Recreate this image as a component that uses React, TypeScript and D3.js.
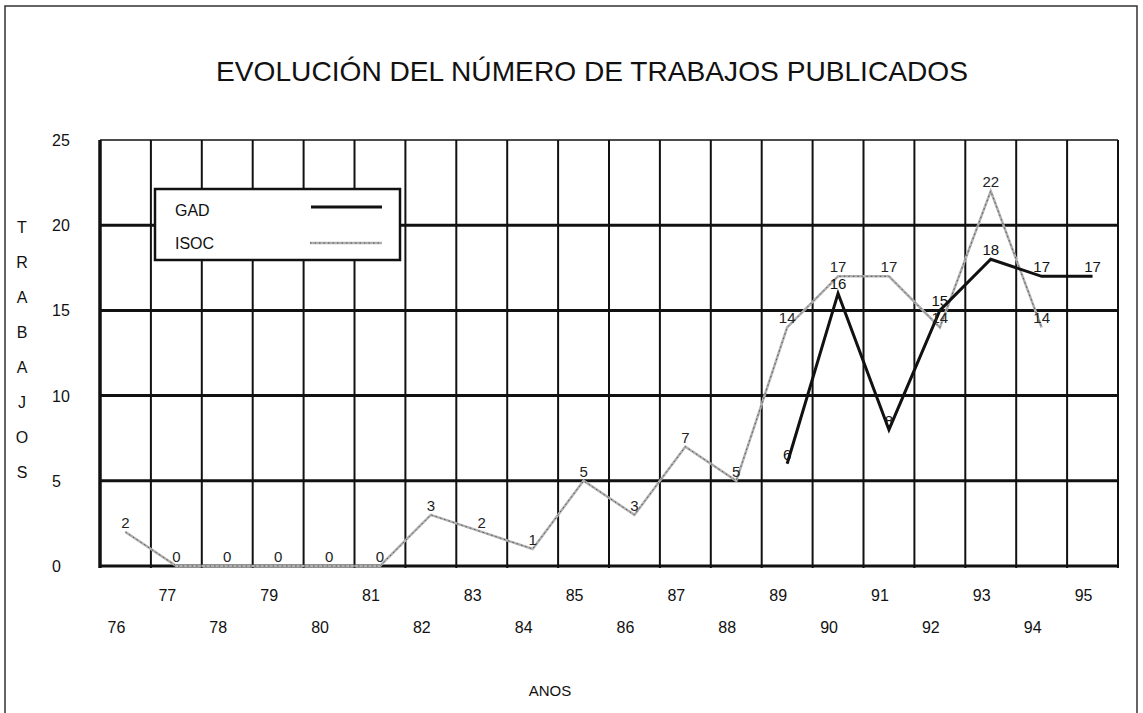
import * as d3 from "d3";

// Published papers per year, two series
const years = ["76", "77", "78", "79", "80", "81", "82", "83", "84", "85", "86", "87", "88", "89", "90", "91", "92", "93", "94", "95"];
const isocYears = ["76", "77", "78", "79", "80", "81", "82", "83", "84", "85", "86", "87", "88", "89", "90", "91", "92", "93", "94"];
const isocValues = [2, 0, 0, 0, 0, 0, 3, 2, 1, 5, 3, 7, 5, 14, 17, 17, 14, 22, 14];
const gadYears = ["89", "90", "91", "92", "93", "94", "95"];
const gadValues = [6, 16, 8, 15, 18, 17, 17];
const yTicks = [0, 5, 10, 15, 20, 25];
const yTitle = ["T", "R", "A", "B", "A", "J", "O", "S"];

const W = 1143;
const H = 713;
const FONT = "'Liberation Sans', Arial, Helvetica, sans-serif";

const App = () => {
  const x = d3.scaleBand().domain(years).range([100, 1118]);
  const y = d3.scaleLinear().domain([0, 25]).range([566, 140]);
  const cx = (k: string) => (x(k) as number) + x.bandwidth() / 2;

  const isoc = isocYears.map((k, i) => ({ k, v: isocValues[i] }));
  const gad = gadYears.map((k, i) => ({ k, v: gadValues[i] }));

  const line = d3
    .line<{ k: string; v: number }>()
    .x((d) => cx(d.k))
    .y((d) => y(d.v));

  // vertical grid at band edges
  const edges = years.map((k) => x(k) as number).concat([1118]);

  return (
    <svg
      width={W}
      height={H}
      style={{ position: "absolute", left: 0, top: 0, background: "#fff" }}
      fontFamily={FONT}
    >
      {/* outer frame of the scanned page */}
      <path d={`M5,${H} V6 H1137 V${H}`} fill="none" stroke="#333" strokeWidth={1.5} />

      <text
        x={592}
        y={81}
        textAnchor="middle"
        fontSize={28}
        textLength={752}
        lengthAdjust="spacingAndGlyphs"
        fill="#111"
      >
        EVOLUCIÓN DEL NÚMERO DE TRABAJOS PUBLICADOS
      </text>

      {/* vertical grid */}
      {edges.map((ex, i) => (
        <line
          key={"v" + i}
          x1={ex}
          x2={ex}
          y1={140}
          y2={568}
          stroke="#111"
          strokeWidth={i === 0 ? 3.5 : 2}
        />
      ))}

      {/* horizontal grid */}
      {yTicks.map((t) => (
        <line
          key={"h" + t}
          x1={100}
          x2={1118}
          y1={y(t)}
          y2={y(t)}
          stroke="#111"
          strokeWidth={t === 25 ? 1.5 : 3}
        />
      ))}

      {/* y tick labels */}
      {yTicks.map((t) => (
        <text key={"yt" + t} x={52} y={y(t) + 6} fontSize={16} fill="#111">
          {t}
        </text>
      ))}

      {/* y title, stacked letters */}
      {yTitle.map((c, i) => (
        <text key={"yl" + i} x={22} y={233 + i * 35} textAnchor="middle" fontSize={16} fill="#111">
          {c}
        </text>
      ))}

      {/* x tick labels, staggered */}
      {years.map((k, i) => (
        <text
          key={"xt" + k}
          x={cx(k) - 9}
          y={i % 2 === 0 ? 633 : 601}
          textAnchor="middle"
          fontSize={16}
          fill="#111"
        >
          {k}
        </text>
      ))}

      <text x={550} y={696} textAnchor="middle" fontSize={15} fill="#111">
        ANOS
      </text>

      {/* ISOC series: grey with dotted texture */}
      <path d={line(isoc) as string} fill="none" stroke="#b0b0b0" strokeWidth={2.5} />
      <path
        d={line(isoc) as string}
        fill="none"
        stroke="#555"
        strokeWidth={1}
        strokeDasharray="1.5,3"
      />

      {/* GAD series */}
      <path d={line(gad) as string} fill="none" stroke="#111" strokeWidth={3} />

      {/* data labels */}
      {isoc.map((d) => (
        <text
          key={"li" + d.k}
          x={cx(d.k)}
          y={y(d.v) - 4}
          textAnchor="middle"
          fontSize={15}
          fill="#222"
        >
          {d.v}
        </text>
      ))}
      {gad.map((d) => (
        <text
          key={"lg" + d.k}
          x={cx(d.k)}
          y={y(d.v) - 4}
          textAnchor="middle"
          fontSize={15}
          fill="#111"
        >
          {d.v}
        </text>
      ))}

      {/* legend */}
      <rect x={155} y={189} width={245} height={71} fill="#fff" stroke="#111" strokeWidth={2.5} />
      <text x={175} y={216} fontSize={16} fill="#111">
        GAD
      </text>
      <text x={175} y={249} fontSize={16} fill="#111">
        ISOC
      </text>
      <line x1={311} x2={382} y1={207} y2={207} stroke="#111" strokeWidth={3} />
      <line x1={310} x2={382} y1={243} y2={243} stroke="#b0b0b0" strokeWidth={2.5} />
      <line x1={310} x2={382} y1={243} y2={243} stroke="#555" strokeWidth={1} strokeDasharray="1.5,3" />
    </svg>
  );
};

export default App;
